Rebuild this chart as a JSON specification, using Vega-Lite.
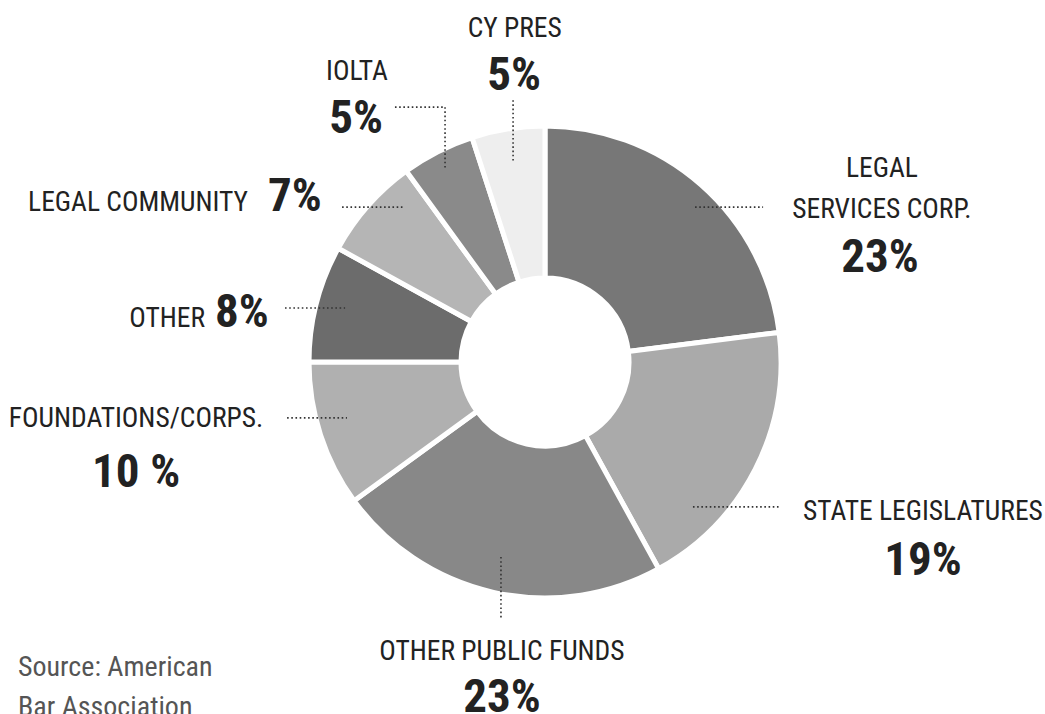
{
  "$schema": "https://vega.github.io/schema/vega-lite/v6.json",
  "width": 1000,
  "height": 704,
  "autosize": {"type": "none"},
  "padding": {"left": 45, "top": 10, "right": 0, "bottom": 0},
  "background": "white",
  "config": {"view": {"stroke": null}, "font": "Roboto Condensed, Roboto, sans-serif"},
  "datasets": {
    "slices": [
      {"source": "Legal Services Corp.", "pct": 23, "order": 1},
      {"source": "State Legislatures", "pct": 19, "order": 2},
      {"source": "Other Public Funds", "pct": 23, "order": 3},
      {"source": "Foundations/Corps.", "pct": 10, "order": 4},
      {"source": "Other", "pct": 8, "order": 5},
      {"source": "Legal Community", "pct": 7, "order": 6},
      {"source": "IOLTA", "pct": 5, "order": 7},
      {"source": "Cy Pres", "pct": 5, "order": 8}
    ],
    "labels": [
      {"text": "CY PRES", "x": -13, "y": 139.5, "role": "name", "align": "center"},
      {"text": "5%", "x": -13.3, "y": 116.7, "role": "pct", "align": "center"},
      {"text": "IOLTA", "x": -80.7, "y": 121, "role": "name", "align": "center"},
      {"text": "5%", "x": -81.1, "y": 98.3, "role": "pct", "align": "center"},
      {"text": "LEGAL COMMUNITY", "x": -127.5, "y": 64.8, "role": "name", "align": "right"},
      {"text": "7%", "x": -118.9, "y": 64.8, "role": "pct", "align": "left"},
      {"text": "OTHER", "x": -145.9, "y": 15, "role": "name", "align": "right"},
      {"text": "8%", "x": -141.6, "y": 15, "role": "pct", "align": "left"},
      {"text": "FOUNDATIONS/CORPS.", "x": -175.5, "y": -27.9, "role": "name", "align": "center"},
      {"text": "10 %", "x": -175.5, "y": -53.6, "role": "pct", "align": "center"},
      {"text": "OTHER PUBLIC FUNDS", "x": -18.5, "y": -127.9, "role": "name", "align": "center"},
      {"text": "23%", "x": -18.5, "y": -150.2, "role": "pct", "align": "center"},
      {"text": "STATE LEGISLATURES", "x": 162.2, "y": -67.8, "role": "name", "align": "center"},
      {"text": "19%", "x": 162.2, "y": -91.4, "role": "pct", "align": "center"},
      {"text": "LEGAL", "x": 144.6, "y": 79.4, "role": "name", "align": "center"},
      {"text": "SERVICES CORP.", "x": 144.6, "y": 61.8, "role": "name", "align": "center"},
      {"text": "23%", "x": 143.8, "y": 38.6, "role": "pct", "align": "center"},
      {"text": "Source: American", "x": -226.2, "y": -134.8, "role": "source", "align": "left"},
      {"text": "Bar Association", "x": -226.2, "y": -151.9, "role": "source", "align": "left"}
    ],
    "leaders": [
      {"x": -13.7, "y": 112.4, "x2": -13.7, "y2": 85.4},
      {"x": -64.4, "y": 109.4, "x2": -42.9, "y2": 109.4},
      {"x": -42.9, "y": 109.4, "x2": -42.9, "y2": 82.4},
      {"x": -87.1, "y": 66.5, "x2": -60.9, "y2": 66.5},
      {"x": -111.6, "y": 23.2, "x2": -85.8, "y2": 23.2},
      {"x": -110.7, "y": -24, "x2": -85, "y2": -24},
      {"x": -18.9, "y": -83.7, "x2": -18.9, "y2": -110.7},
      {"x": 63.5, "y": -62.2, "x2": 100.9, "y2": -62.2},
      {"x": 64.4, "y": 66.5, "x2": 93.6, "y2": 66.5}
    ]
  },
  "layer": [
    {
      "data": {"name": "slices"},
      "mark": {"type": "arc", "outerRadius": 236, "innerRadius": 84, "stroke": "white", "strokeWidth": 5},
      "encoding": {
        "theta": {"field": "pct", "type": "quantitative", "stack": true},
        "order": {"field": "order", "type": "quantitative"},
        "color": {
          "field": "source",
          "type": "nominal",
          "scale": {
            "domain": ["Legal Services Corp.", "State Legislatures", "Other Public Funds", "Foundations/Corps.", "Other", "Legal Community", "IOLTA", "Cy Pres"],
            "range": ["#777777", "#aaaaaa", "#888888", "#b0b0b0", "#6c6c6c", "#b5b5b5", "#8a8a8a", "#eeeeee"]
          },
          "legend": null
        }
      }
    },
    {
      "data": {"name": "leaders"},
      "mark": {"type": "rule", "stroke": "#333333", "strokeWidth": 1.6, "strokeDash": [1.6, 2.6]},
      "encoding": {
        "x": {"field": "x", "type": "quantitative", "scale": {"domain": [-214.6, 214.6], "nice": false, "zero": false}, "axis": null},
        "y": {"field": "y", "type": "quantitative", "scale": {"domain": [-151.1, 151.1], "nice": false, "zero": false}, "axis": null},
        "x2": {"field": "x2"},
        "y2": {"field": "y2"}
      }
    },
    {
      "data": {"name": "labels"},
      "transform": [{"filter": "datum.role == 'name' && datum.align == 'center'"}],
      "mark": {"type": "text", "align": "center", "baseline": "alphabetic", "fontSize": 27.5, "color": "#222222"},
      "encoding": {
        "x": {"field": "x", "type": "quantitative", "scale": {"domain": [-214.6, 214.6], "nice": false, "zero": false}, "axis": null},
        "y": {"field": "y", "type": "quantitative", "scale": {"domain": [-151.1, 151.1], "nice": false, "zero": false}, "axis": null},
        "text": {"field": "text"}
      }
    },
    {
      "data": {"name": "labels"},
      "transform": [{"filter": "datum.role == 'name' && datum.align == 'right'"}],
      "mark": {"type": "text", "align": "right", "baseline": "alphabetic", "fontSize": 27.5, "color": "#222222"},
      "encoding": {
        "x": {"field": "x", "type": "quantitative", "scale": {"domain": [-214.6, 214.6], "nice": false, "zero": false}, "axis": null},
        "y": {"field": "y", "type": "quantitative", "scale": {"domain": [-151.1, 151.1], "nice": false, "zero": false}, "axis": null},
        "text": {"field": "text"}
      }
    },
    {
      "data": {"name": "labels"},
      "transform": [{"filter": "datum.role == 'pct' && datum.align == 'center'"}],
      "mark": {"type": "text", "align": "center", "baseline": "alphabetic", "fontSize": 47, "fontWeight": "bold", "color": "#222222"},
      "encoding": {
        "x": {"field": "x", "type": "quantitative", "scale": {"domain": [-214.6, 214.6], "nice": false, "zero": false}, "axis": null},
        "y": {"field": "y", "type": "quantitative", "scale": {"domain": [-151.1, 151.1], "nice": false, "zero": false}, "axis": null},
        "text": {"field": "text"}
      }
    },
    {
      "data": {"name": "labels"},
      "transform": [{"filter": "datum.role == 'pct' && datum.align == 'left'"}],
      "mark": {"type": "text", "align": "left", "baseline": "alphabetic", "fontSize": 47, "fontWeight": "bold", "color": "#222222"},
      "encoding": {
        "x": {"field": "x", "type": "quantitative", "scale": {"domain": [-214.6, 214.6], "nice": false, "zero": false}, "axis": null},
        "y": {"field": "y", "type": "quantitative", "scale": {"domain": [-151.1, 151.1], "nice": false, "zero": false}, "axis": null},
        "text": {"field": "text"}
      }
    },
    {
      "data": {"name": "labels"},
      "transform": [{"filter": "datum.role == 'source'"}],
      "mark": {"type": "text", "align": "left", "baseline": "alphabetic", "fontSize": 28, "color": "#555555"},
      "encoding": {
        "x": {"field": "x", "type": "quantitative", "scale": {"domain": [-214.6, 214.6], "nice": false, "zero": false}, "axis": null},
        "y": {"field": "y", "type": "quantitative", "scale": {"domain": [-151.1, 151.1], "nice": false, "zero": false}, "axis": null},
        "text": {"field": "text"}
      }
    }
  ]
}
